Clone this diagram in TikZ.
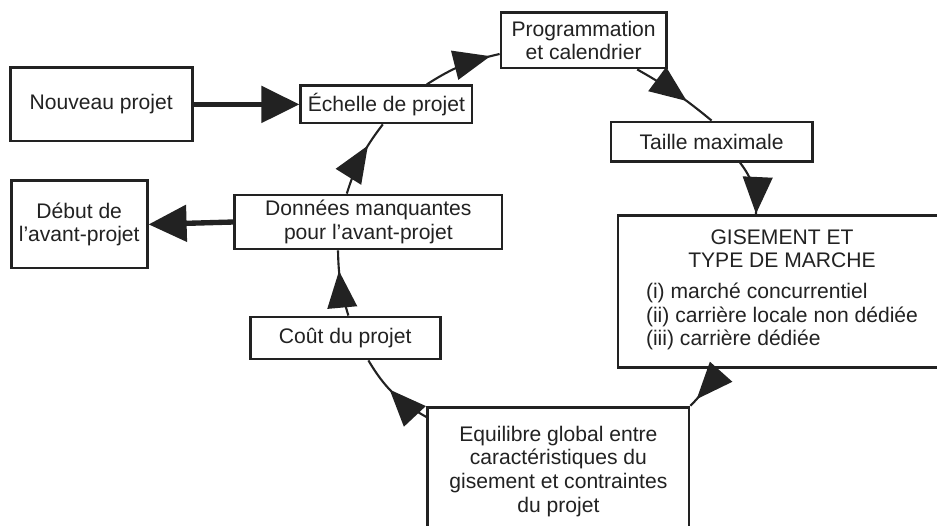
\documentclass[tikz,border=0pt]{standalone}
\usepackage{fontspec}
\setmainfont{Liberation Sans}
\usepackage{tikz}
\usetikzlibrary{arrows.meta,positioning,decorations.markings}
\definecolor{DarkInk}{HTML}{222222}
\newcommand{\boxfont}{\fontsize{15pt}{16.8pt}\selectfont}

\begin{document}
\begin{tikzpicture}[
  % ── node styles ──────────────────────────────────────────
  stage/.style={
    draw=DarkInk, fill=white, line width=2pt,
    align=center, font=\boxfont, text=DarkInk,
    inner sep=2pt
  },
  % ── arrow styles ─────────────────────────────────────────
  flow/.style={color=DarkInk, line width=1.5pt,
    postaction={decorate},
    decoration={markings,
      mark=at position #1 with {\arrow{Triangle[length=0.92cm, width=0.74cm]}}}},
  push/.style={color=DarkInk, line width=3.8pt,
    -{Triangle[length=0.95cm, width=0.9cm]}}
]

\useasboundingbox (0,0) rectangle (23.425,-13.125);
\clip (0,0) rectangle (23.425,-13.125);

%% ── Entry / exit ──
\node[stage, minimum width=4.55cm, minimum height=1.83cm] (NP) at (2.53,-2.61)  {Nouveau projet};
\node[stage, minimum width=3.40cm, minimum height=2.18cm] (DA) at (1.98,-5.61)  {Début de\\l’avant-projet};

%% ── Cycle ──
\node[stage, minimum width=4.28cm, minimum height=0.93cm] (EP) at (9.66,-2.61)  {Échelle de projet};
\node[stage, minimum width=4.13cm, minimum height=1.38cm] (PC) at (14.59,-1.01) {Programmation\\et calendrier};
\node[stage, minimum width=5.03cm, minimum height=0.98cm] (TM) at (17.79,-3.54) {Taille maximale};
\node[stage, minimum width=8.20cm, minimum height=3.80cm] (GT) at (19.55,-7.28)
  {GISEMENT ET\\TYPE DE MARCHE\\[9pt]
   \begin{tabular}{@{}l@{}}
     (i) marché concurrentiel\\
     (ii) carrière locale non dédiée\\
     (iii) carrière dédiée
   \end{tabular}};
\node[stage, minimum width=6.53cm, minimum height=3.20cm] (EG) at (13.96,-11.78)
  {Equilibre global entre\\caractéristiques du\\gisement et contraintes\\du projet};
\node[stage, minimum width=4.75cm, minimum height=1.05cm] (CP) at (8.63,-8.45)  {Coût du projet};
\node[stage, minimum width=6.68cm, minimum height=1.35cm] (DM) at (9.21,-5.55)  {Données manquantes\\pour l’avant-projet};

%% ── Edges: in and out ──
\draw[push] (NP.east) -- (EP.west);
\draw[push] (DM.west) -- (DA.east);

%% ── Edges: cycle ──
\draw[flow=0.88] ([xshift=1.01cm]EP.north) to[bend left=10] ([yshift=-0.34cm]PC.west);
\draw[flow=0.65] ([xshift=1.34cm]PC.south) to[bend left=5] (TM.north);
\draw[flow=1]    ([xshift=0.71cm]TM.south) to[bend left=20] ([xshift=-0.65cm]GT.north);
\draw[flow=0.8]  ([xshift=-1.65cm]GT.south) to[bend left=10] (EG.north east);
\draw[flow=0.56] ([yshift=-0.28cm]EG.north west) to[bend left=15] ([xshift=0.58cm]CP.south);
\draw[flow=0.69] ([xshift=0.08cm]CP.north) to[bend left=8] ([xshift=-0.76cm]DM.south);
\draw[flow=0.67] ([xshift=-0.54cm]DM.north) to[bend left=10] ([xshift=-0.09cm]EP.south);

\end{tikzpicture}
\end{document}
